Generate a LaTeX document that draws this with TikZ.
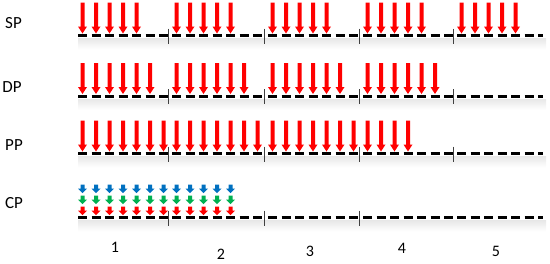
\documentclass[tikz,border=0pt]{standalone}
\usepackage{fontspec}
\setmainfont{Carlito}
\definecolor{cpblue}{RGB}{0,112,192}
\definecolor{cpgreen}{RGB}{0,176,80}
\tikzset{
  track/.style={line width=3pt, dash pattern=on 9pt off 4.5pt},
  divider/.style={line width=0.8pt, black!75},
  rowlabel/.style={inner sep=0pt, font=\fontsize{17}{17}\selectfont},
  seglabel/.style={inner sep=0pt, font=\fontsize{16}{16}\selectfont},
  bigarrow/.pic={\fill (-2,-31) -- (2,-31) -- (2,-7) -- (4.5,-7) -- (0,0)
    -- (-4.5,-7) -- (-2,-7) -- cycle;},
  smallarrow/.pic={\fill (-2,-8.5) -- (2,-8.5) -- (2,-4.5) -- (4.5,-4.5) -- (0,0)
    -- (-4.5,-4.5) -- (-2,-4.5) -- cycle;}
}
\begin{document}
\begin{tikzpicture}[x=1pt,y=-1pt]
  \useasboundingbox (0,0) rectangle (550,263);
  % --- Tracks with soft shadow ---
  \foreach \ly in {35.5,96,153.5,217.5} {
    \shade[top color=black!9, bottom color=white] (78,\ly+3) rectangle (546,\ly+14);
    \foreach \s/\e in {78/168,172/264,268/359,363/453,457/543}
      \draw[track] (\s,\ly) -- (\e,\ly);
  }
  % --- Dividers between the five parts ---
  \foreach \ly in {35.5,96,153.5}
    \foreach \d in {168,264,359,453}
      \draw[divider] (\d,\ly-7) -- (\d,\ly+8);
  \foreach \d in {168,264,359}
    \draw[divider] (\d,210.5) -- (\d,225.5);
  % --- SP: five arrows on every part ---
  \foreach \s in {78,172,268,363,457}
    \foreach \k in {0,...,4}
      \pic[red] at ({\s+4.5+13.5*\k},33.5) {bigarrow};
  % --- DP: six arrows on parts 1-4 ---
  \foreach \s in {78,172,268,363}
    \foreach \k in {0,...,5}
      \pic[red] at ({\s+4.5+13.5*\k},94) {bigarrow};
  % --- PP: seven arrows on parts 1-3, four on part 4 ---
  \foreach \s in {78,172,268}
    \foreach \k in {0,...,6}
      \pic[red] at ({\s+4.5+13.5*\k},151.5) {bigarrow};
  \foreach \k in {0,...,3}
    \pic[red] at ({363+4.5+13.5*\k},151.5) {bigarrow};
  % --- CP: stacked small arrows on parts 1-2 ---
  \foreach \s/\n in {78/6,172/4}
    \foreach \k in {0,...,\n} {
      \pic[cpblue] at ({\s+4.5+13.5*\k},193) {smallarrow};
      \pic[cpgreen] at ({\s+4.5+13.5*\k},204) {smallarrow};
      \pic[red] at ({\s+4.5+13.5*\k},215) {smallarrow};
    }
  % --- Labels ---
  \node[rowlabel] (sp) at (13.5,23.5) {SP};
  \node[rowlabel] (dp) at (12,87) {DP};
  \node[rowlabel] (pp) at (14,145.5) {PP};
  \node[rowlabel] (cp) at (14,203.5) {CP};
  \node[seglabel] (part1) at (115,247) {1};
  \node[seglabel] (part2) at (221,254) {2};
  \node[seglabel] (part3) at (310,251) {3};
  \node[seglabel] (part4) at (402,248.5) {4};
  \node[seglabel] (part5) at (496,251) {5};
\end{tikzpicture}
\end{document}
